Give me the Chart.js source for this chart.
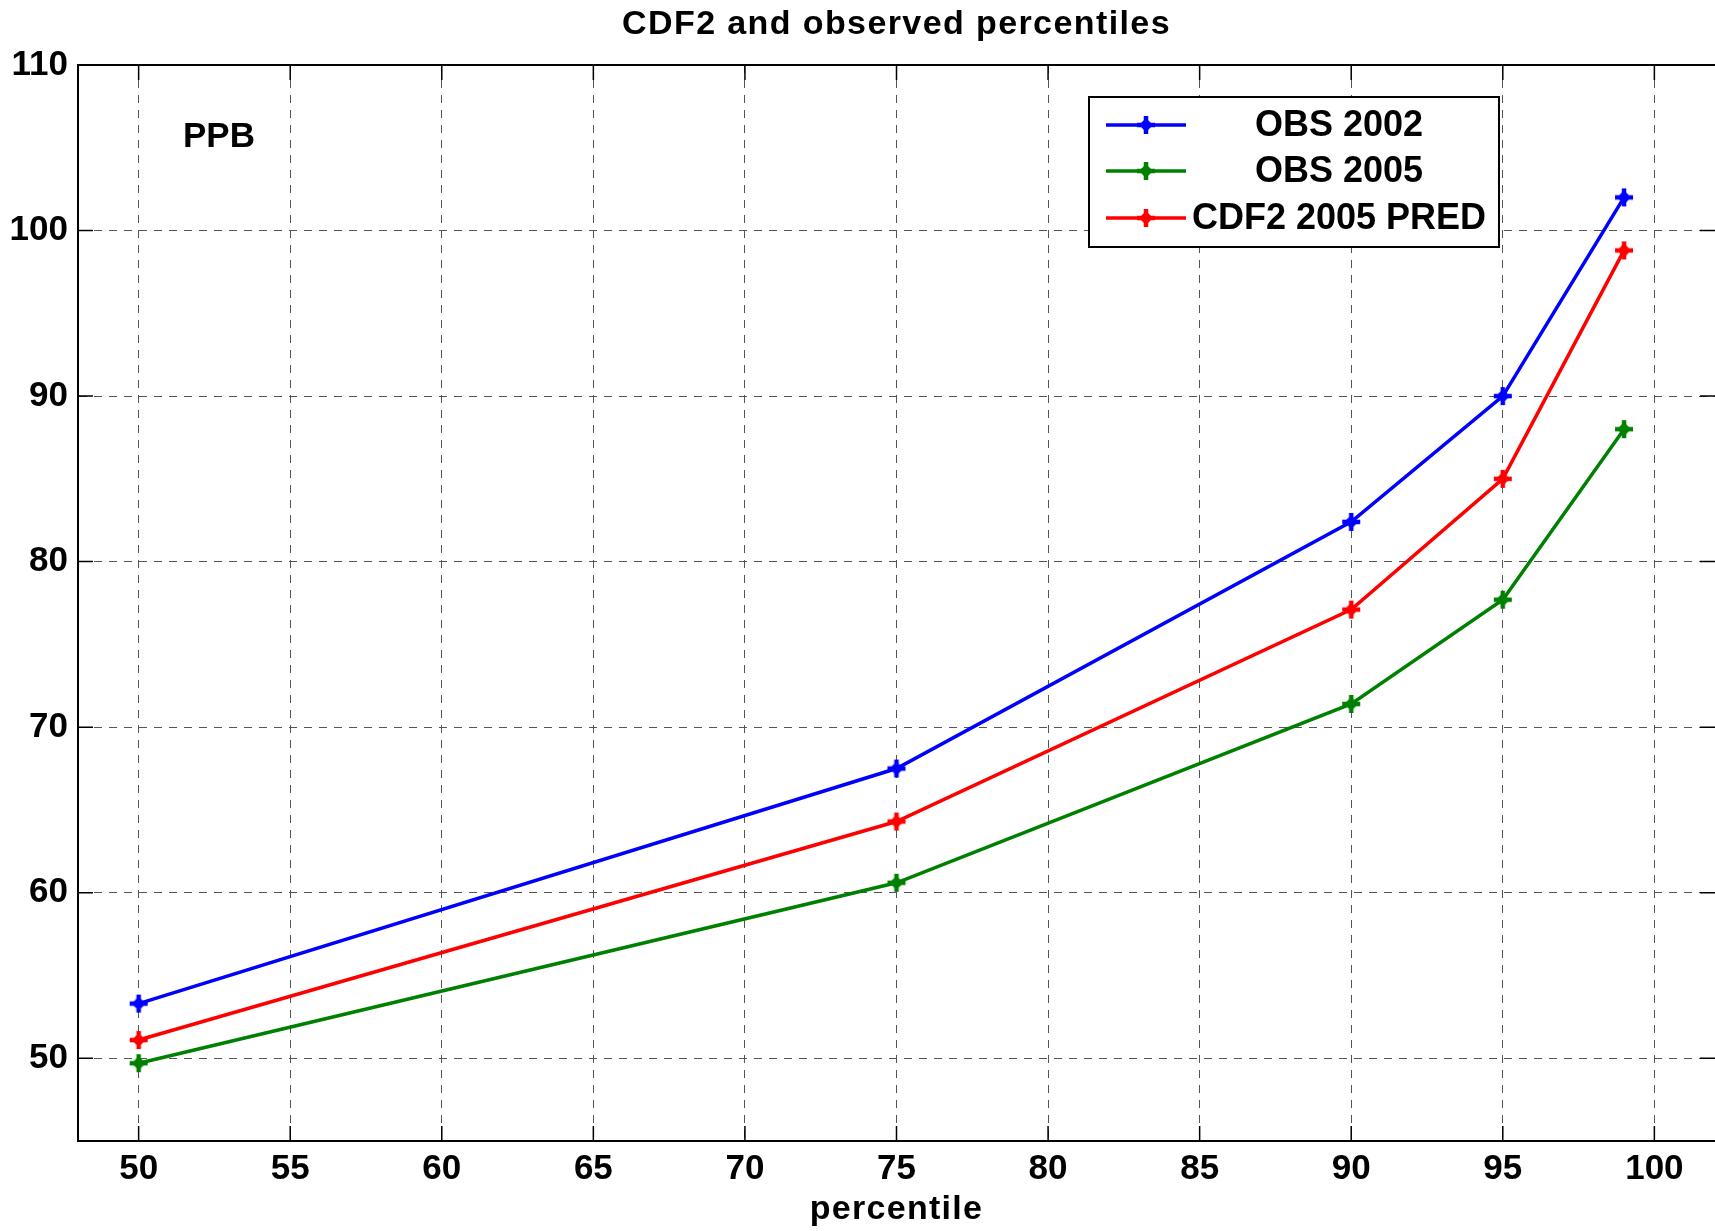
<!DOCTYPE html>
<html>
<head>
<meta charset="utf-8">
<title>CDF2 and observed percentiles</title>
<script src="https://cdn.jsdelivr.net/npm/chart.js@4/dist/chart.umd.min.js"></script>
<style>
  html, body { margin: 0; padding: 0; background: #fff; overflow: hidden; }
  #wrap { width: 1715px; height: 1231px; }
  canvas { display: block; }
</style>
</head>
<body>
<div id="wrap"><canvas id="cdfChart"></canvas></div>
<script>
const percentiles = [50, 75, 90, 95, 99];
const obs2002 = [53.3, 67.5, 82.4, 90.0, 102.0];
const obs2005 = [49.7, 60.6, 71.4, 77.7, 88.0];
const cdf2Pred2005 = [51.1, 64.3, 77.1, 85.0, 98.8];
const seriesNames = ['OBS 2002', 'OBS 2005', 'CDF2 2005 PRED'];
const xTicks = [50, 55, 60, 65, 70, 75, 80, 85, 90, 95, 100];
const yTicks = [50, 60, 70, 80, 90, 100, 110];

const FONT = "'Liberation Sans', Arial, Helvetica, sans-serif";

// plus sign with a filled diamond in the middle, used as the point marker
function makeMarker(color) {
  const c = document.createElement('canvas');
  c.width = 22; c.height = 22;
  const g = c.getContext('2d');
  g.strokeStyle = color;
  g.fillStyle = color;
  g.lineWidth = 4.5;
  g.beginPath();
  g.moveTo(11, 2); g.lineTo(11, 20);
  g.moveTo(2, 11); g.lineTo(20, 11);
  g.stroke();
  g.beginPath();
  g.moveTo(11, 4); g.lineTo(18, 11); g.lineTo(11, 18); g.lineTo(4, 11);
  g.closePath();
  g.fill();
  return c;
}

const colors = ['#0000ff', '#008000', '#ff0000'];
const markers = colors.map(makeMarker);
const toXY = ys => percentiles.map((p, i) => ({ x: p, y: ys[i] }));

const datasets = [obs2002, obs2005, cdf2Pred2005].map((ys, i) => ({
  label: seriesNames[i],
  data: toXY(ys),
  borderColor: colors[i],
  backgroundColor: colors[i],
  borderWidth: 3.5,
  pointStyle: markers[i],
  pointRadius: 9,
  fill: false,
  tension: 0
}));

// title, PPB note, box edges, inward ticks and the legend box
const decorations = {
  id: 'decorations',
  afterDraw(chart) {
    const ctx = chart.ctx;
    const a = chart.chartArea;
    const xs = chart.scales.x, ys = chart.scales.y;
    ctx.save();

    ctx.strokeStyle = '#000';
    ctx.lineWidth = 2;
    ctx.beginPath();
    ctx.moveTo(a.left, a.top); ctx.lineTo(a.right, a.top);
    ctx.stroke();

    ctx.lineWidth = 1.5;
    ctx.beginPath();
    xTicks.forEach(v => {
      const px = xs.getPixelForValue(v);
      ctx.moveTo(px, a.bottom); ctx.lineTo(px, a.bottom - 15);
      ctx.moveTo(px, a.top); ctx.lineTo(px, a.top + 15);
    });
    yTicks.forEach(v => {
      const py = ys.getPixelForValue(v);
      ctx.moveTo(a.left, py); ctx.lineTo(a.left + 15, py);
      ctx.moveTo(a.right, py); ctx.lineTo(a.right - 15, py);
    });
    ctx.stroke();

    ctx.fillStyle = '#000';
    ctx.textBaseline = 'middle';
    ctx.textAlign = 'center';
    ctx.font = 'bold 34px ' + FONT;
    ctx.letterSpacing = '1.4px';
    ctx.fillText('CDF2 and observed percentiles', (a.left + a.right) / 2, 25);
    ctx.letterSpacing = '1.3px';
    ctx.fillText('percentile', (a.left + a.right) / 2, 1210);
    ctx.letterSpacing = '0px';

    ctx.font = 'bold 35px ' + FONT;
    ctx.fillText('PPB', 219, 137);

    // legend
    const box = { l: 1089, t: 97, r: 1499, b: 247 };
    ctx.fillStyle = '#fff';
    ctx.fillRect(box.l, box.t, box.r - box.l, box.b - box.t);
    ctx.strokeStyle = '#000';
    ctx.lineWidth = 2;
    ctx.strokeRect(box.l, box.t, box.r - box.l, box.b - box.t);
    const rowY = [125, 171, 218];
    chart.data.datasets.forEach((ds, i) => {
      const y = rowY[i];
      ctx.strokeStyle = ds.borderColor;
      ctx.lineWidth = 3.5;
      ctx.beginPath();
      ctx.moveTo(1106, y); ctx.lineTo(1186, y);
      ctx.stroke();
      ctx.drawImage(markers[i], 1146 - 11, y - 11);
      ctx.fillStyle = '#000';
      ctx.font = 'bold 36px ' + FONT;
      ctx.fillText(ds.label, 1339, y + 1);
    });
    ctx.restore();
  }
};

new Chart(document.getElementById('cdfChart'), {
  type: 'line',
  data: { datasets },
  options: {
    responsive: true,
    maintainAspectRatio: false,
    animation: false,
    layout: { autoPadding: false, padding: { top: 65, right: 0, left: 0, bottom: 0 } },
    plugins: {
      legend: { display: false },
      title: { display: false },
      tooltip: { enabled: false }
    },
    scales: {
      x: {
        type: 'linear',
        min: 48,
        max: 102,
        afterBuildTicks: s => { s.ticks = xTicks.map(v => ({ value: v })); },
        afterFit: s => { s.height = 90; },
        ticks: {
          color: '#000',
          padding: 7,
          maxRotation: 0,
          font: { family: FONT, size: 35, weight: 'bold' }
        },
        grid: { color: '#555', lineWidth: 1, drawTicks: false },
        border: { display: true, color: '#000', width: 2, dash: [8, 7] }
      },
      y: {
        min: 45,
        max: 110,
        afterBuildTicks: s => { s.ticks = yTicks.map(v => ({ value: v })); },
        afterFit: s => { s.width = 78; },
        ticks: {
          color: '#000',
          padding: 10,
          font: { family: FONT, size: 35, weight: 'bold' }
        },
        grid: { color: '#555', lineWidth: 1, drawTicks: false },
        border: { display: true, color: '#000', width: 2, dash: [8, 7] }
      }
    }
  },
  plugins: [decorations]
});
</script>
</body>
</html>
